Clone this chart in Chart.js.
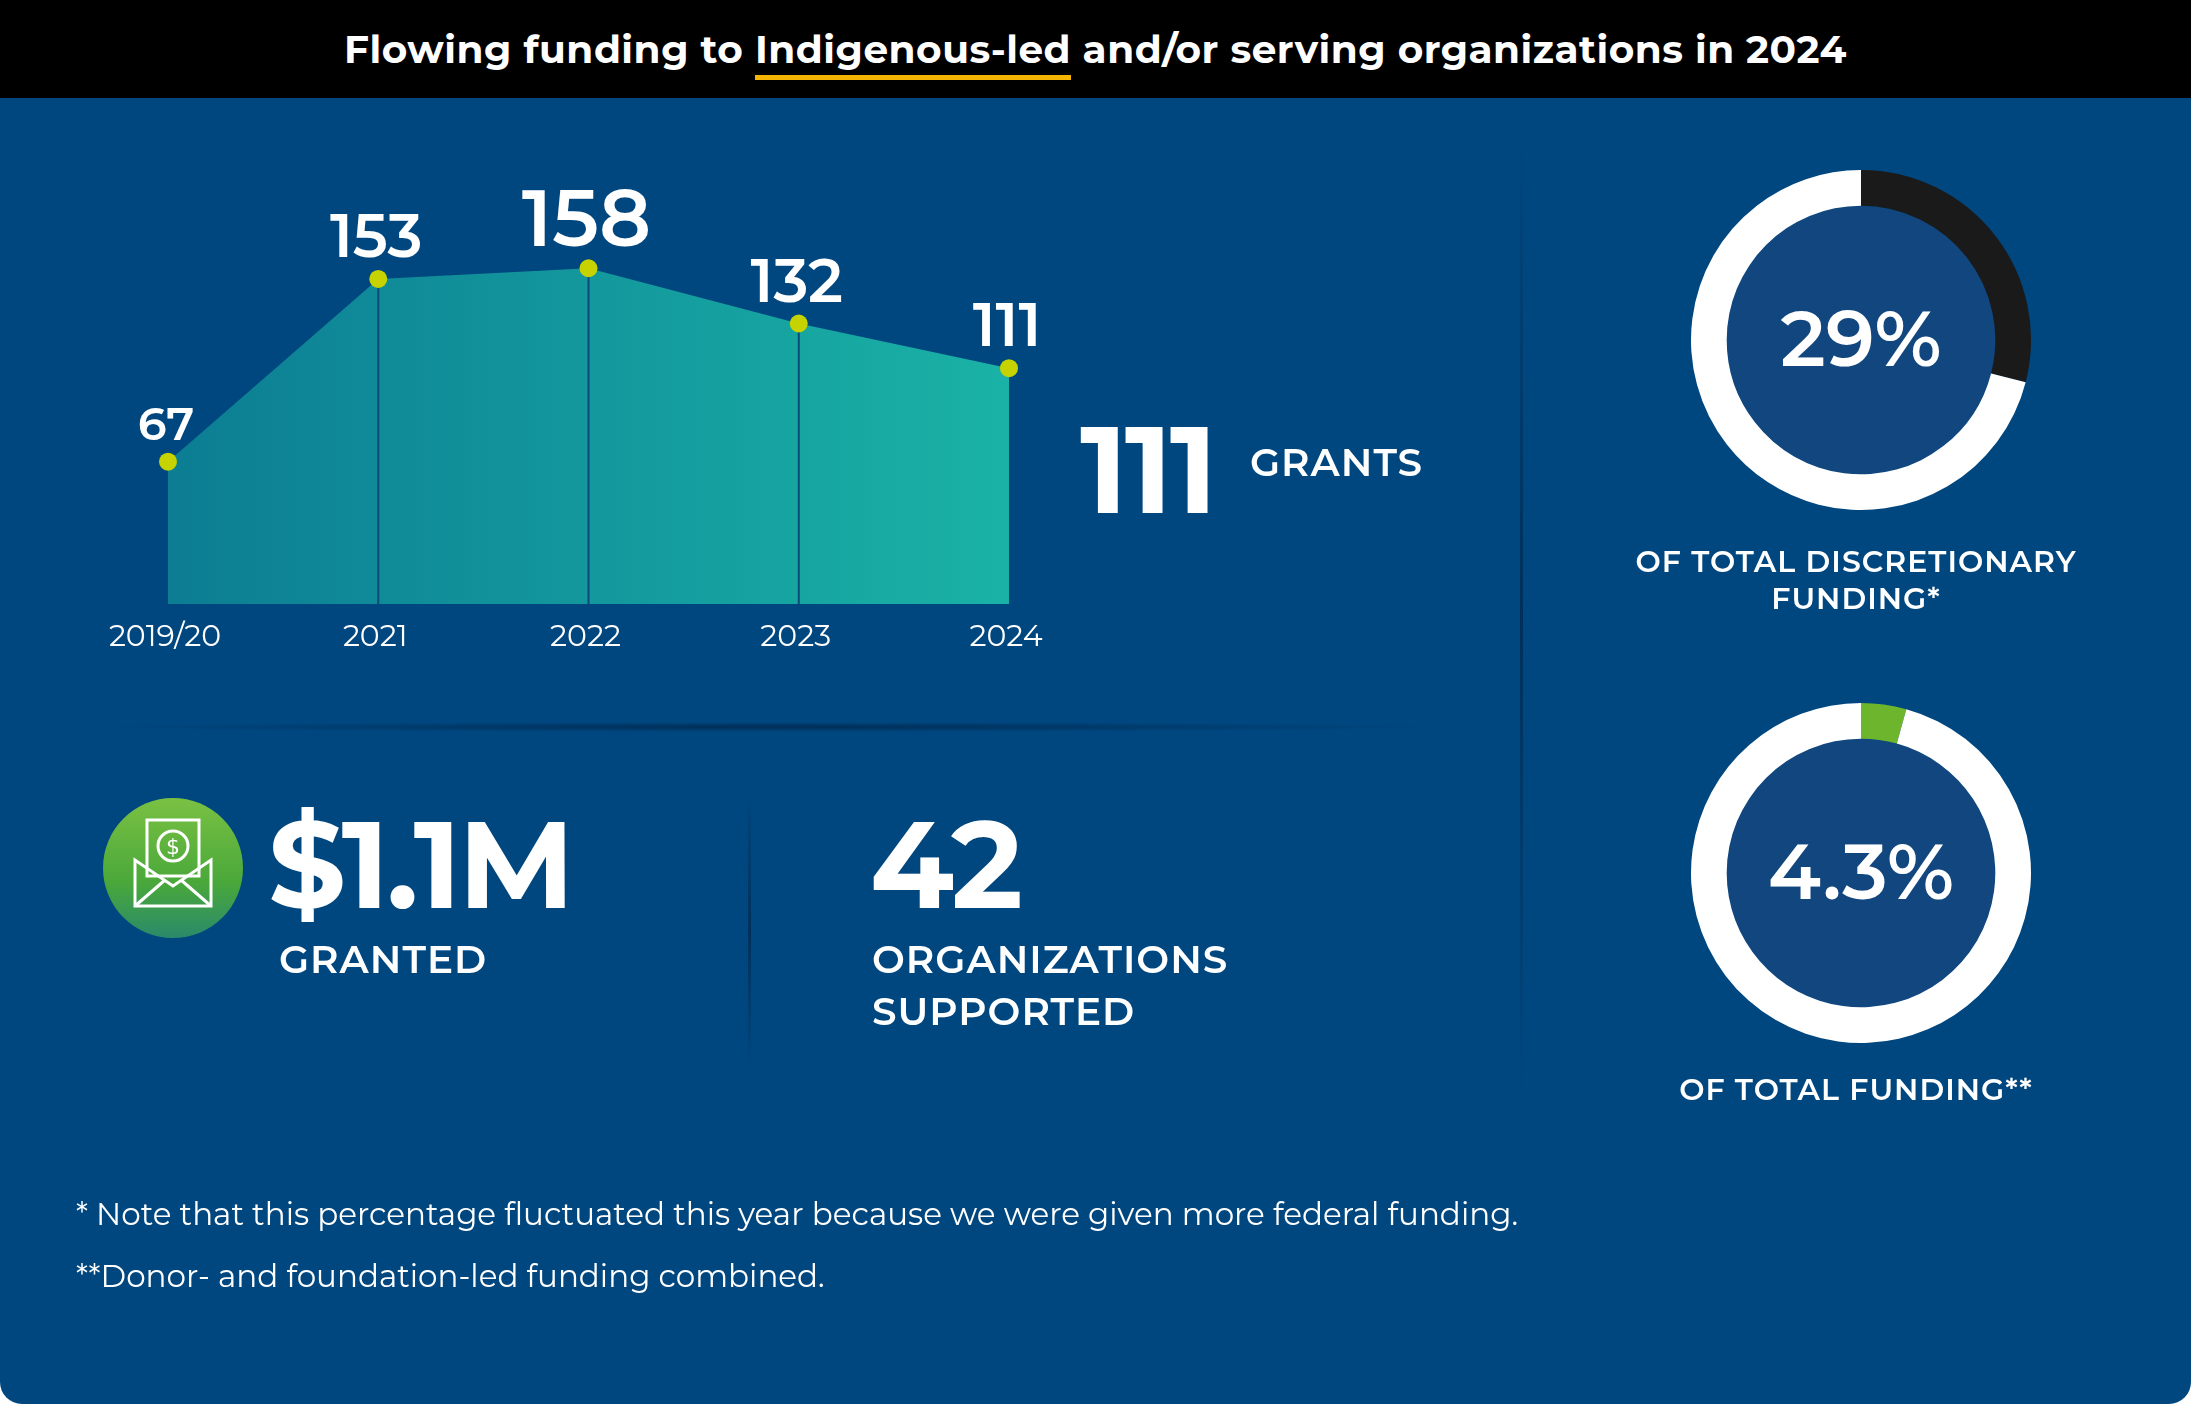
<!DOCTYPE html>
<html>
<head>
<title>Indigenous-led funding 2024</title>
<script src="https://cdn.jsdelivr.net/npm/chart.js"></script>
<style>
  body { margin: 0; background: #fff; font-family: "Montserrat", "Inter", "Open Sans", sans-serif; }
  #page { position: relative; width: 2191px; height: 1406px; overflow: hidden; }
  #panel { position: absolute; left: 0; top: 0; width: 2191px; height: 1404px; background: #00477f; border-radius: 0 0 22px 22px; }
  #header { position: absolute; left: 0; top: 0; width: 2191px; height: 98px; background: #000; color: #fff;
            font-weight: 700; font-size: 39px; text-align: center; line-height: 98px; letter-spacing: 0.5px; }
  #header u { text-decoration: none; border-bottom: 5px solid #f4b400; padding-bottom: 2px; }
  .t { position: absolute; color: #fff; white-space: nowrap; }
  .big { font-weight: 700; font-size: 122px; letter-spacing: -3px; }
  .cap { font-weight: 600; font-size: 39px; letter-spacing: 1px; line-height: 52px; }
  .dcap { font-weight: 600; font-size: 30px; letter-spacing: 1px; line-height: 37px; text-align: center; width: 600px; }
  .pct { font-weight: 600; font-size: 78px; text-align: center; width: 340px; }
  .note { font-size: 31px; }
  .vline { position: absolute; width: 3px; background: linear-gradient(to bottom, rgba(0,30,60,0), rgba(0,30,60,0.55), rgba(0,30,60,0)); }
  .hline { position: absolute; height: 10px; background: radial-gradient(ellipse at center, rgba(0,25,55,0.55), rgba(0,25,55,0) 70%); }
  canvas { position: absolute; }
</style>
</head>
<body>
<div id="page">
  <div id="panel"></div>
  <div id="header">Flowing funding to <u>Indigenous-led</u> and/or serving organizations in 2024</div>

  <canvas id="area" width="2191" height="1406" style="left:0;top:0;width:2191px;height:1406px"></canvas>

  <div class="t big" style="left:1080px;top:395px;">111</div>
  <div class="t cap" style="left:1250px;top:436px;">GRANTS</div>

  <div class="hline" style="left:90px;top:722px;width:1360px;"></div>
  <div class="vline" style="left:1520px;top:145px;height:945px;"></div>
  <div class="vline" style="left:748px;top:795px;height:270px;"></div>

  <svg style="position:absolute;left:103px;top:798px" width="140" height="140" viewBox="0 0 140 140">
    <defs><linearGradient id="g" x1="0" y1="0" x2="0" y2="1">
      <stop offset="0" stop-color="#7ac143"/><stop offset="0.6" stop-color="#4aa83a"/><stop offset="1" stop-color="#2a8a6a"/></linearGradient></defs>
    <circle cx="70" cy="70" r="70" fill="url(#g)"/>
    <g fill="none" stroke="#fff" stroke-width="3">
      <path d="M32 62 L32 108 L108 108 L108 62 L70 88 Z"/>
      <path d="M32 108 L62 82 M108 108 L78 82"/>
      <rect x="44" y="22" width="52" height="56"/>
      <circle cx="70" cy="48" r="15"/>
    </g>
    <text x="70" y="56" fill="#fff" font-size="22" font-family="DejaVu Sans" text-anchor="middle">$</text>
  </svg>
  <div class="t big" style="left:268px;top:790px;">$1.1M</div>
  <div class="t cap" style="left:279px;top:933px;">GRANTED</div>

  <div class="t big" style="left:870px;top:790px;">42</div>
  <div class="t cap" style="left:872px;top:933px;">ORGANIZATIONS<br>SUPPORTED</div>

  <canvas id="d1" width="360" height="360" style="left:1681px;top:160px;width:360px;height:360px"></canvas>
  <div class="t pct" style="left:1691px;top:290px;">29%</div>
  <div class="t dcap" style="left:1556px;top:543px;">OF TOTAL DISCRETIONARY<br>FUNDING*</div>

  <canvas id="d2" width="360" height="360" style="left:1681px;top:693px;width:360px;height:360px"></canvas>
  <div class="t pct" style="left:1691px;top:823px;">4.3%</div>
  <div class="t dcap" style="left:1556px;top:1071px;">OF TOTAL FUNDING**</div>

  <div class="t note" style="left:76px;top:1195px;">* Note that this percentage fluctuated this year because we were given more federal funding.</div>
  <div class="t note" style="left:76px;top:1257px;">**Donor- and foundation-led funding combined.</div>
</div>

<script>
const years = ["2019/20", "2021", "2022", "2023", "2024"];
const grants = [67, 153, 158, 132, 111];
const labelSizes = [46, 60, 80, 60, 60];

const discretionaryShare = [29, 71];
const totalShare = [4.3, 95.7];

const areaLabels = {
  id: "areaLabels",
  afterDatasetsDraw(chart) {
    const ctx = chart.ctx;
    const xs = chart.scales.x, ys = chart.scales.y;
    const base = ys.getPixelForValue(0);
    ctx.save();
    // vertical guide lines
    ctx.strokeStyle = "#0b4a78";
    ctx.lineWidth = 2;
    for (let i = 1; i < years.length - 1; i++) {
      const x = xs.getPixelForValue(i);
      ctx.beginPath();
      ctx.moveTo(x, ys.getPixelForValue(grants[i]));
      ctx.lineTo(x, base);
      ctx.stroke();
    }
    ctx.fillStyle = "#fff";
    ctx.textAlign = "center";
    years.forEach((y, i) => {
      const x = xs.getPixelForValue(i);
      ctx.font = "600 " + labelSizes[i] + "px Montserrat, Inter, sans-serif";
      ctx.textBaseline = "alphabetic";
      ctx.fillText(String(grants[i]), x - 2, ys.getPixelForValue(grants[i]) - 22);
      ctx.font = "400 30px Montserrat, Inter, sans-serif";
      ctx.textBaseline = "top";
      ctx.fillText(y, x - 3, base + 18);
    });
    ctx.restore();
  }
};

// redraw points on top of guide lines
const pointsOnTop = {
  id: "pointsOnTop",
  afterDraw(chart) {
    const ctx = chart.ctx;
    const meta = chart.getDatasetMeta(0);
    ctx.save();
    ctx.fillStyle = "#c6d300";
    meta.data.forEach(p => { ctx.beginPath(); ctx.arc(p.x, p.y, 9, 0, Math.PI * 2); ctx.fill(); });
    ctx.restore();
  }
};

new Chart(document.getElementById("area"), {
  type: "line",
  data: {
    labels: years,
    datasets: [{
      data: grants,
      fill: "origin",
      tension: 0,
      borderWidth: 0,
      pointRadius: 0,
      backgroundColor: (c) => {
        const a = c.chart.chartArea;
        if (!a) return "#139";
        const g = c.chart.ctx.createLinearGradient(a.left, 0, a.right, 0);
        g.addColorStop(0, "#0c7d93");
        g.addColorStop(1, "#1ab2a6");
        return g;
      }
    }]
  },
  options: {
    responsive: false,
    animation: false,
    layout: { padding: { left: 168, right: 1182, top: 179, bottom: 802 } },
    plugins: { legend: { display: false }, tooltip: { enabled: false } },
    scales: {
      x: { display: false, offset: false },
      y: { display: false, min: 0, max: 200 }
    }
  },
  plugins: [areaLabels, pointsOnTop]
});

const innerFill = {
  id: "innerFill",
  beforeDatasetsDraw(chart) {
    const a = chart.getDatasetMeta(0).data[0];
    const ctx = chart.ctx;
    ctx.save();
    ctx.fillStyle = "#11467e";
    ctx.beginPath();
    ctx.arc(a.x, a.y, a.innerRadius, 0, Math.PI * 2);
    ctx.fill();
    ctx.restore();
  }
};

function donut(id, values, color) {
  new Chart(document.getElementById(id), {
    type: "doughnut",
    data: { labels: ["share", "rest"], datasets: [{ data: values, backgroundColor: [color, "#ffffff"], borderWidth: 0 }] },
    options: {
      responsive: false, animation: false, cutout: "79%",
      layout: { padding: 10 },
      plugins: { legend: { display: false }, tooltip: { enabled: false } }
    },
    plugins: [innerFill]
  });
}
donut("d1", discretionaryShare, "#1a1a1a");
donut("d2", totalShare, "#6cb52d");
</script>
</body>
</html>
